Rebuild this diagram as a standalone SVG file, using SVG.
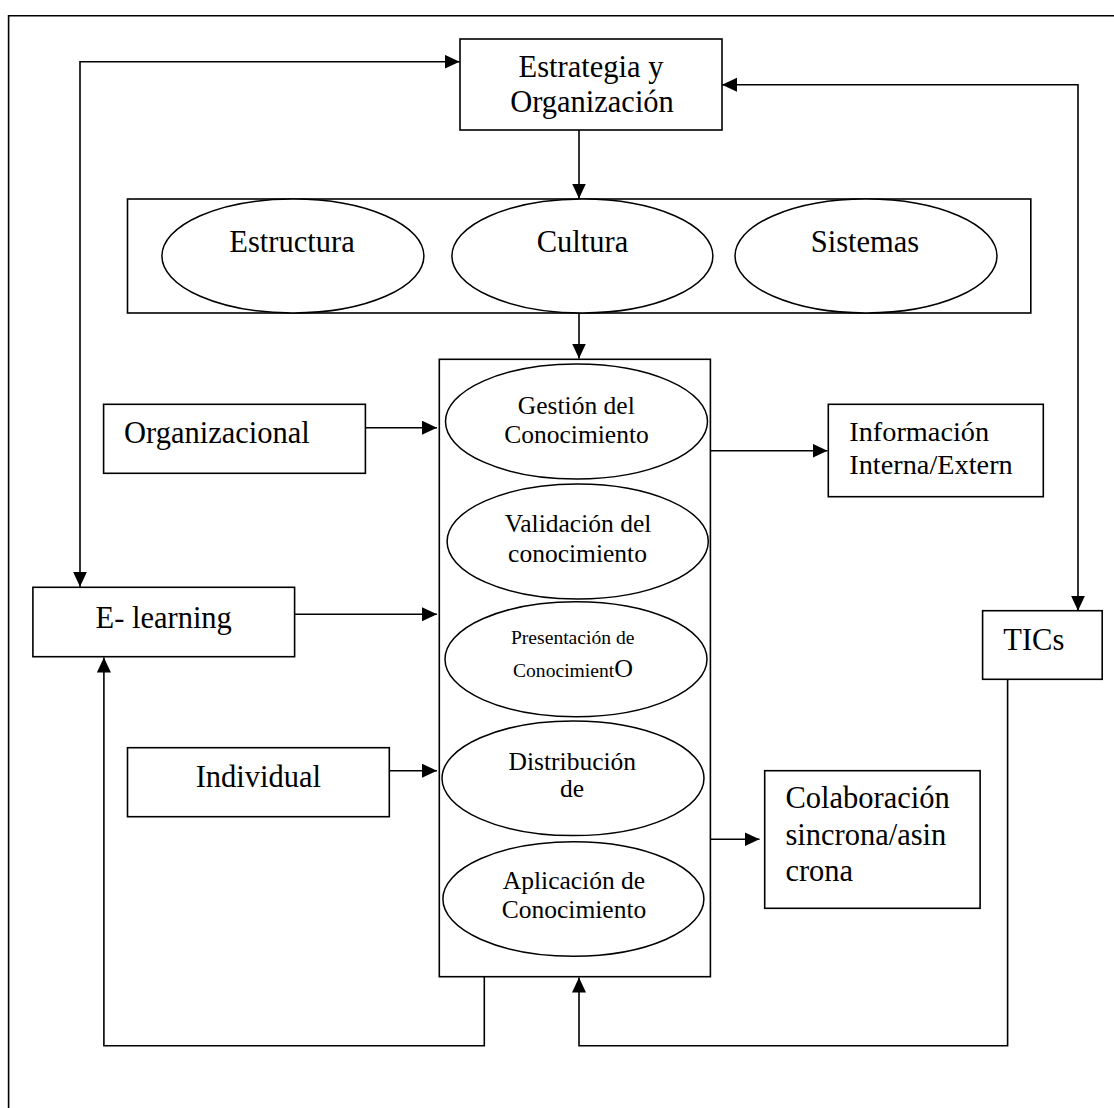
<svg xmlns="http://www.w3.org/2000/svg" width="1114" height="1108" viewBox="0 0 1114 1108">
  <style>
    .box { fill: #ffffff; stroke: #000000; stroke-width: 1.6; }
    .ell { fill: #ffffff; stroke: #000000; stroke-width: 1.5; }
    .ln { fill: none; stroke: #000000; stroke-width: 1.6; }
    .t { font-family: "Liberation Serif", "Times New Roman", serif; fill: #000000; }
    .big { font-size: 30.5px; }
    .info { font-size: 28.3px; }
    .mid { font-size: 25.5px; }
    .sm { font-size: 19.6px; }
    .c { text-anchor: middle; }
  </style>
  <defs>
    <marker id="ah" markerUnits="userSpaceOnUse" markerWidth="16" markerHeight="15" refX="15" refY="7" orient="auto-start-reverse" viewBox="0 0 16 15">
      <path d="M0,0 L15,7 L0,14 z" fill="#000000"/>
    </marker>
  </defs>
  <rect width="1114" height="1108" fill="#ffffff"/>
  <path class="ln" d="M8.6,1108 V15.7 H1114"/>

  <g id="connectors">
    <path class="ln" d="M459.6,61.7 H80 V586.7" marker-start="url(#ah)" marker-end="url(#ah)"/>
    <path class="ln" d="M722,84.7 H1078 V610.7" marker-start="url(#ah)" marker-end="url(#ah)"/>
    <path class="ln" d="M579,130 V198.5" marker-end="url(#ah)"/>
    <path class="ln" d="M579,313 V358.5" marker-end="url(#ah)"/>
    <path class="ln" d="M365.4,427.7 H437" marker-end="url(#ah)"/>
    <path class="ln" d="M294.6,614.3 H437" marker-end="url(#ah)"/>
    <path class="ln" d="M389.3,770.7 H437" marker-end="url(#ah)"/>
    <path class="ln" d="M708.6,450.7 H827.5" marker-end="url(#ah)"/>
    <path class="ln" d="M711,839.3 H759.5" marker-end="url(#ah)"/>
    <path class="ln" d="M484.3,977 V1045.7 H103.9 V657.5" marker-end="url(#ah)"/>
    <path class="ln" d="M1007.6,679.3 V1045.7 H579 V977.5" marker-end="url(#ah)"/>
  </g>

  <g id="estrategia">
    <rect class="box" x="460" y="39" width="262" height="91"/>
    <text class="t big c" x="591" y="77.3">Estrategia y</text>
    <text class="t big c" x="592" y="112.3">Organización</text>
  </g>

  <g id="contenedor-estructura">
    <rect class="box" x="127.5" y="199" width="903.3" height="114"/>
  </g>
  <g id="estructura">
    <ellipse class="ell" cx="292.9" cy="256" rx="131" ry="57"/>
    <text class="t big c" x="292" y="251.7">Estructura</text>
  </g>
  <g id="cultura">
    <ellipse class="ell" cx="582.4" cy="256" rx="130.5" ry="57"/>
    <text class="t big c" x="582.5" y="251.7">Cultura</text>
  </g>
  <g id="sistemas">
    <ellipse class="ell" cx="866" cy="256" rx="131" ry="57"/>
    <text class="t big c" x="865" y="251.7">Sistemas</text>
  </g>

  <g id="columna">
    <rect class="box" x="439.3" y="359.3" width="271.1" height="617.4"/>
  </g>
  <g id="gestion">
    <ellipse class="ell" cx="576.5" cy="421.5" rx="131" ry="57.5"/>
    <text class="t mid c" x="576.3" y="414">Gestión del</text>
    <text class="t mid c" x="576.5" y="443">Conocimiento</text>
  </g>
  <g id="validacion">
    <ellipse class="ell" cx="577.7" cy="541.5" rx="130.6" ry="57.5"/>
    <text class="t mid c" x="578" y="531.7">Validación del</text>
    <text class="t mid c" x="577.5" y="561.7">conocimiento</text>
  </g>
  <g id="presentacion">
    <ellipse class="ell" cx="576" cy="659.2" rx="131" ry="57.5"/>
    <text class="t sm c" x="572.7" y="644.3">Presentación de</text>
    <text class="t sm c" x="573" y="677.3">Conocimient<tspan style="font-size:26px">O</tspan></text>
  </g>
  <g id="distribucion">
    <ellipse class="ell" cx="573" cy="778.3" rx="131" ry="57.3"/>
    <text class="t mid c" x="572.3" y="770">Distribución</text>
    <text class="t mid c" x="572" y="797.3">de</text>
  </g>
  <g id="aplicacion">
    <ellipse class="ell" cx="573.4" cy="899" rx="130.5" ry="57.2"/>
    <text class="t mid c" x="574" y="889">Aplicación de</text>
    <text class="t mid c" x="574" y="918">Conocimiento</text>
  </g>

  <g id="organizacional">
    <rect class="box" x="103.6" y="404.3" width="261.8" height="69"/>
    <text class="t big" x="124" y="443.3">Organizacional</text>
  </g>
  <g id="elearning">
    <rect class="box" x="32.9" y="587.3" width="261.7" height="69.4"/>
    <text class="t big c" x="163.7" y="627.7">E- learning</text>
  </g>
  <g id="individual">
    <rect class="box" x="127.5" y="747.7" width="261.8" height="69"/>
    <text class="t big c" x="258.4" y="786.7">Individual</text>
  </g>
  <g id="informacion">
    <rect class="box" x="828.3" y="404.3" width="215" height="92.4"/>
    <text class="t info" x="849.3" y="440.5">Información</text>
    <text class="t info" x="849.3" y="473.5">Interna/Extern</text>
  </g>
  <g id="tics">
    <rect class="box" x="982.6" y="610.7" width="119.6" height="68.6"/>
    <text class="t big" x="1003.3" y="650">TICs</text>
  </g>
  <g id="colaboracion">
    <rect class="box" x="764.7" y="770.7" width="215.4" height="137.6"/>
    <text class="t big" x="785.4" y="808.3">Colaboración</text>
    <text class="t big" x="785.4" y="845">sincrona/asin</text>
    <text class="t big" x="785.4" y="881">crona</text>
  </g>
</svg>
